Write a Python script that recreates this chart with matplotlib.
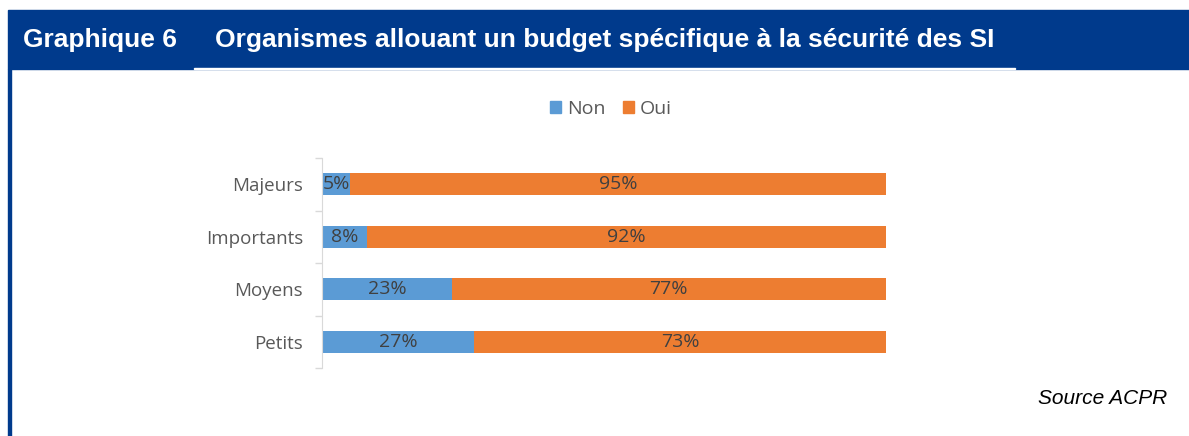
import numpy as np
import matplotlib
matplotlib.use("Agg")
import matplotlib.pyplot as plt
from matplotlib.patches import Rectangle, Patch

# data
categories = ["Majeurs", "Importants", "Moyens", "Petits"]
non = [5, 8, 23, 27]
oui = [95, 92, 77, 73]
series_names = ["Non", "Oui"]

blue = "#5B9BD5"
orange = "#ED7D31"
navy = "#003A8C"
W, H = 1189, 436

fig = plt.figure(figsize=(W / 100, H / 100), dpi=100)

# header banner
fig.patches.append(Rectangle((8 / W, 1 - 69 / H), 1 - 8 / W, 59 / H,
                             transform=fig.transFigure, color=navy, zorder=0))
# thin white gap under the title
fig.patches.append(Rectangle((194 / W, 1 - 69 / H), (1015 - 194) / W, 1 / H,
                             transform=fig.transFigure, color="white", zorder=1))
# left border line
fig.patches.append(Rectangle((8 / W, 0), 2.5 / W, 1 - 69 / H,
                             transform=fig.transFigure, color=navy, zorder=0))

fig.text(23 / W, 1 - 40 / H, "Graphique 6", color="white", fontsize=19,
         fontweight="bold", family="Liberation Sans", va="center", ha="left")
fig.text(215 / W, 1 - 40 / H, "Organismes allouant un budget spécifique à la sécurité des SI",
         color="white", fontsize=19, fontweight="bold", family="Liberation Sans",
         va="center", ha="left")
fig.text(1167 / W, 1 - 398 / H, "Source ACPR", color="black", fontsize=15,
         style="italic", family="Liberation Sans", va="center", ha="right")

ax = fig.add_axes([322 / W, 1 - 368 / H, (886 - 322) / W, (368 - 158) / H])
y = np.arange(len(categories))
ax.barh(y, non, height=0.42, color=blue, left=0)
ax.barh(y, oui, height=0.42, color=orange, left=non)

for i in range(len(categories)):
    ax.text(non[i] / 2, y[i], f"{non[i]}%", ha="center", va="center",
            color="#404040", fontsize=14, family="Open Sans")
    ax.text(non[i] + oui[i] / 2, y[i], f"{oui[i]}%", ha="center", va="center",
            color="#404040", fontsize=14, family="Open Sans")

ax.set_xlim(0, 100)
ax.set_ylim(len(categories) - 0.5, -0.5)
ax.set_yticks(y)
ax.set_yticklabels(categories, family="Open Sans", fontsize=13.5, color="#595959")
ax.set_yticks(np.arange(-0.5, len(categories)), minor=True)
ax.tick_params(axis="y", which="major", length=0, pad=13.5)
ax.tick_params(axis="y", which="minor", length=5, color="#D9D9D9", width=1)
ax.set_xticks([])
for s in ["top", "right", "bottom"]:
    ax.spines[s].set_visible(False)
ax.spines["left"].set_color("#D9D9D9")

handles = [Patch(color=blue), Patch(color=orange)]
fig.legend(handles, series_names, loc="center", bbox_to_anchor=(611 / W, 1 - 109 / H),
           ncol=2, frameon=False, handlelength=0.55, handleheight=0.55,
           handletextpad=0.3, columnspacing=0.9,
           prop={"family": "Open Sans", "size": 14}, labelcolor="#595959")

fig.savefig("out.png", dpi=100)
